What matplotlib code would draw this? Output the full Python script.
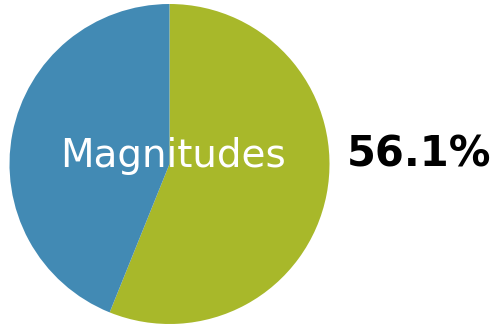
import matplotlib.pyplot as plt

labels = ["Magnitudes", "Other"]
shares = [56.1, 43.9]
colors = ["#a8b82a", "#428ab4"]

W, H = 499, 326
fig = plt.figure(figsize=(W / 100, H / 100), dpi=100)

# pie centered at (169.5, 164) px with radius 160 px
cx, cy, r = 169.5, 164, 160
ax = fig.add_axes([(cx - r) / W, (H - cy - r) / H, 2 * r / W, 2 * r / H])
ax.pie(shares, colors=colors, startangle=90, counterclock=False, radius=1,
       wedgeprops=dict(linewidth=0))
ax.set_xlim(-1, 1)
ax.set_ylim(-1, 1)
ax.set_aspect("auto")
ax.axis("off")

fig.text(173 / W, 1 - 156 / H, labels[0], color="white", fontsize=28,
         ha="center", va="center", family="DejaVu Sans")
fig.text(419.5 / W, 1 - 155 / H, f"{shares[0]:.1f}%", color="black",
         fontsize=30, fontweight="bold", ha="center", va="center",
         family="DejaVu Sans")

fig.savefig("out.png", dpi=100)
